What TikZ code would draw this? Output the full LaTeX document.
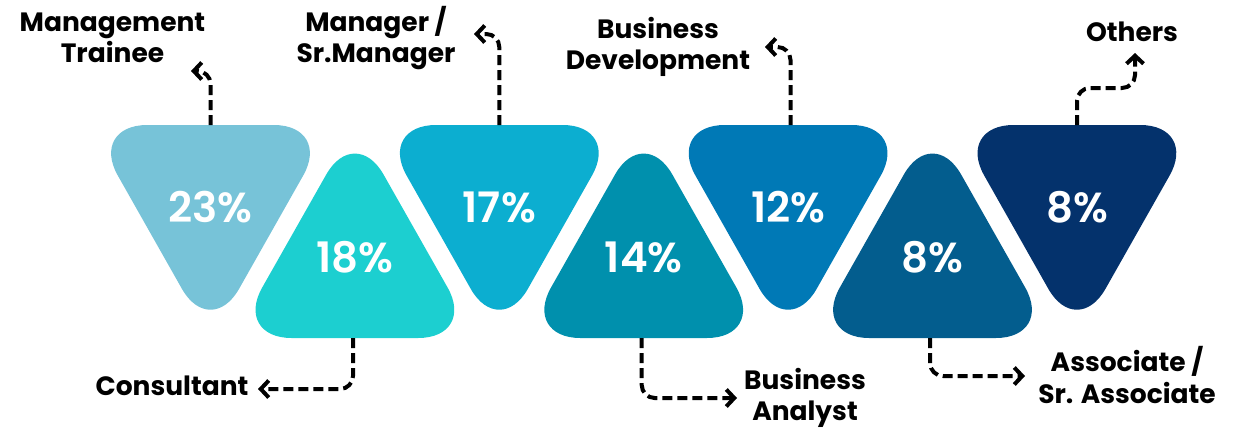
\documentclass[tikz,border=0pt]{standalone}
\usepackage{fontspec}
\setmainfont{Poppins}
\newfontfamily\pctfont{Poppins SemiBold}
\newfontfamily\lblfont{Poppins Bold}
\usetikzlibrary{arrows.meta}
\definecolor{cA}{HTML}{77C3D8}
\definecolor{cB}{HTML}{1CCFD0}
\definecolor{cC}{HTML}{0CAED0}
\definecolor{cD}{HTML}{0090AD}
\definecolor{cE}{HTML}{0079B6}
\definecolor{cF}{HTML}{035D8E}
\definecolor{cG}{HTML}{04326C}
\begin{document}
\begin{tikzpicture}[x=1pt,y=-1pt,
  tri/.style={rounded corners=58pt},
  pct/.style={text=white,font=\pctfont\fontsize{42}{42}\selectfont,inner sep=0pt},
  lbl/.style={align=center,font=\lblfont\fontsize{26.5}{31.5}\selectfont,inner sep=0pt},
  conn/.style={line width=4pt,dash pattern=on 10pt off 5pt,rounded corners=13pt,
    -{Straight Barb[length=8pt,width=17pt]}}]
\useasboundingbox (0,0) rectangle (1244,431);
% triangles (down: top edge at y=125; up: base at y=338)
\fill[cA,tri,shift={(210.5,0)}] (0,125) -- (121.3,125) -- (0,339.3) -- (-121.3,125) -- cycle;
\fill[cB,tri,shift={(354.9,0)}] (0,338) -- (-121.3,338) -- (0,124) -- (121.3,338) -- cycle;
\fill[cC,tri,shift={(499.3,0)}] (0,125) -- (121.3,125) -- (0,339.3) -- (-121.3,125) -- cycle;
\fill[cD,tri,shift={(643.7,0)}] (0,338) -- (-121.3,338) -- (0,124) -- (121.3,338) -- cycle;
\fill[cE,tri,shift={(788.1,0)}] (0,125) -- (121.3,125) -- (0,339.3) -- (-121.3,125) -- cycle;
\fill[cF,tri,shift={(932.5,0)}] (0,338) -- (-121.3,338) -- (0,124) -- (121.3,338) -- cycle;
\fill[cG,tri,shift={(1076.9,0)}] (0,125) -- (121.3,125) -- (0,339.3) -- (-121.3,125) -- cycle;
% percentages
\node[pct] (p1) at (210.5,207) {23\%};
\node[pct] (p2) at (354.9,257) {18\%};
\node[pct] (p3) at (499.3,207) {17\%};
\node[pct] (p4) at (643.7,257) {14\%};
\node[pct] (p5) at (788.1,207) {12\%};
\node[pct] (p6) at (932.5,257) {8\%};
\node[pct] (p7) at (1076.9,207) {8\%};
% labels
\node[lbl] (l1) at (112.5,38) {Management\\Trainee};
\node[lbl] (l2) at (376,38) {Manager /\\Sr.Manager};
\node[lbl] (l3) at (658,47) {Business\\Development};
\node[lbl] (l4) at (1132,32) {Others};
\node[lbl] (l5) at (172,386) {Consultant};
\node[lbl] (l6) at (805,398) {Business\\Analyst};
\node[lbl] (l7) at (1127,375) {Associate /\\Sr. Associate};
% connector endpoints
\coordinate (s1) at (210.5,125);
\coordinate (e1) at (191,71);
\coordinate (s2) at (499.3,125);
\coordinate (e2) at (474,34);
\coordinate (s3) at (790.5,125);
\coordinate (e3) at (765,47);
\coordinate (s4) at (1077,125);
\coordinate (e4) at (1135,53);
\coordinate (s5) at (353,338);
\coordinate (e5) at (258,389);
\coordinate (s6) at (641.7,338);
\coordinate (e6) at (737,398);
\coordinate (s7) at (930,338);
\coordinate (e7) at (1025,376);
% connectors
\draw[conn] (s1) |- (e1);
\draw[conn] (s2) |- (e2);
\draw[conn] (s3) |- (e3);
\draw[conn] (s4) -- ++(0,-37) -| (e4);
\draw[conn] (s5) |- (e5);
\draw[conn] (s6) |- (e6);
\draw[conn] (s7) |- (e7);
\end{tikzpicture}
\end{document}
